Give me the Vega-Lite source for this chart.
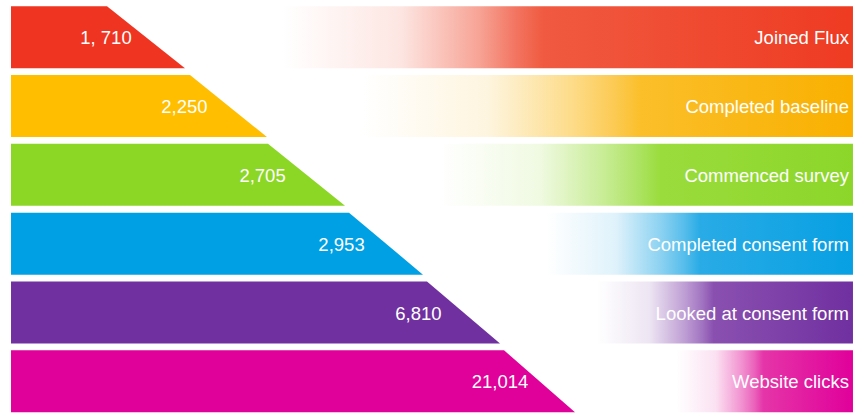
{
  "$schema": "https://vega.github.io/schema/vega-lite/v6.json",
  "width": 854,
  "height": 413,
  "autosize": {"type": "fit", "contains": "padding"},
  "padding": 0,
  "background": "white",
  "config": {"view": {"stroke": null}},
  "datasets": {
    "stages": [
      {"stage": "Joined Flux", "count": 1710, "label": "1, 710", "labelAt": 12.41, "fade": 33.14},
      {"stage": "Completed baseline", "count": 2250, "label": "2,250", "labelAt": 21.6, "fade": 42.51},
      {"stage": "Commenced survey", "count": 2705, "label": "2,705", "labelAt": 30.74, "fade": 51.52},
      {"stage": "Completed consent form", "count": 2953, "label": "2,953", "labelAt": 39.99, "fade": 64.05},
      {"stage": "Looked at consent form", "count": 6810, "label": "6,810", "labelAt": 49.0, "fade": 69.91},
      {"stage": "Website clicks", "count": 21014, "label": "21,014", "labelAt": 58.55, "fade": 79.27}
    ],
    "edge": [
      {"stage": "Joined Flux", "level": 0.09, "edge": 12.53},
      {"stage": "Joined Flux", "level": 0.99, "edge": 21.66},
      {"stage": "Completed baseline", "level": 1.09, "edge": 22.25},
      {"stage": "Completed baseline", "level": 1.99, "edge": 31.26},
      {"stage": "Commenced survey", "level": 2.09, "edge": 31.38},
      {"stage": "Commenced survey", "level": 2.99, "edge": 40.4},
      {"stage": "Completed consent form", "level": 3.09, "edge": 40.87},
      {"stage": "Completed consent form", "level": 3.99, "edge": 49.53},
      {"stage": "Looked at consent form", "level": 4.09, "edge": 50.0},
      {"stage": "Looked at consent form", "level": 4.99, "edge": 58.55},
      {"stage": "Website clicks", "level": 5.09, "edge": 59.02},
      {"stage": "Website clicks", "level": 5.99, "edge": 67.33}
    ]
  },
  "layer": [
    {
      "data": {"name": "edge"},
      "mark": {"type": "area", "orient": "horizontal"},
      "encoding": {
        "y": {"field": "level", "type": "quantitative", "scale": {"domain": [0, 6], "reverse": true, "nice": false, "zero": false}, "axis": null},
        "x": {"field": "edge", "type": "quantitative", "scale": {"domain": [0, 100], "nice": false, "zero": false}, "axis": null},
        "x2": {"datum": 1.29},
        "color": {"field": "stage", "type": "nominal", "legend": null,
          "scale": {"domain": ["Joined Flux", "Completed baseline", "Commenced survey", "Completed consent form", "Looked at consent form", "Website clicks"],
                    "range": ["#EF3522", "#FFBE00", "#8CD626", "#00A0E4", "#7030A0", "#E0009A"]}}
      }
    },
    {
      "data": {"name": "stages"},
      "transform": [{"filter": "datum.stage === 'Joined Flux'"}],
      "mark": {"type": "rect", "fill": {"gradient": "linear", "x1": 0, "y1": 0, "x2": 1, "y2": 0, "stops": [
        {"offset": 0, "color": "#FFFFFF"}, {"offset": 0.206, "color": "#FDE6E2"}, {"offset": 0.343, "color": "#F7A496"}, {"offset": 0.41, "color": "#F27460"}, {"offset": 0.457, "color": "#F05A40"}, {"offset": 1, "color": "#EE3B22"}]}},
      "encoding": {
        "y": {"field": "stage", "type": "nominal", "axis": null, "scale": {"type": "band", "domain": ["Joined Flux", "Completed baseline", "Commenced survey", "Completed consent form", "Looked at consent form", "Website clicks"], "paddingInner": 0.1, "paddingOuter": 0.05, "align": 0.9}},
        "x": {"field": "fade", "type": "quantitative", "scale": {"domain": [0, 100], "nice": false, "zero": false}, "axis": null},
        "x2": {"datum": 99.88}
      }
    },
    {
      "data": {"name": "stages"},
      "transform": [{"filter": "datum.stage === 'Completed baseline'"}],
      "mark": {"type": "rect", "fill": {"gradient": "linear", "x1": 0, "y1": 0, "x2": 1, "y2": 0, "stops": [
        {"offset": 0, "color": "#FFFFFF"}, {"offset": 0.255, "color": "#FEF5DF"}, {"offset": 0.425, "color": "#FDDC8A"}, {"offset": 0.51, "color": "#FCCB55"}, {"offset": 0.566, "color": "#FBBF2A"}, {"offset": 1, "color": "#F9B000"}]}},
      "encoding": {
        "y": {"field": "stage", "type": "nominal", "axis": null, "scale": {"type": "band", "domain": ["Joined Flux", "Completed baseline", "Commenced survey", "Completed consent form", "Looked at consent form", "Website clicks"], "paddingInner": 0.1, "paddingOuter": 0.05, "align": 0.9}},
        "x": {"field": "fade", "type": "quantitative", "scale": {"domain": [0, 100], "nice": false, "zero": false}, "axis": null},
        "x2": {"datum": 99.88}
      }
    },
    {
      "data": {"name": "stages"},
      "transform": [{"filter": "datum.stage === 'Commenced survey'"}],
      "mark": {"type": "rect", "fill": {"gradient": "linear", "x1": 0, "y1": 0, "x2": 1, "y2": 0, "stops": [
        {"offset": 0, "color": "#FFFFFF"}, {"offset": 0.24, "color": "#F0FAE2"}, {"offset": 0.4, "color": "#C7EC94"}, {"offset": 0.48, "color": "#ADE363"}, {"offset": 0.534, "color": "#9ADC3C"}, {"offset": 1, "color": "#8CD62A"}]}},
      "encoding": {
        "y": {"field": "stage", "type": "nominal", "axis": null, "scale": {"type": "band", "domain": ["Joined Flux", "Completed baseline", "Commenced survey", "Completed consent form", "Looked at consent form", "Website clicks"], "paddingInner": 0.1, "paddingOuter": 0.05, "align": 0.9}},
        "x": {"field": "fade", "type": "quantitative", "scale": {"domain": [0, 100], "nice": false, "zero": false}, "axis": null},
        "x2": {"datum": 99.88}
      }
    },
    {
      "data": {"name": "stages"},
      "transform": [{"filter": "datum.stage === 'Completed consent form'"}],
      "mark": {"type": "rect", "fill": {"gradient": "linear", "x1": 0, "y1": 0, "x2": 1, "y2": 0, "stops": [
        {"offset": 0, "color": "#FFFFFF"}, {"offset": 0.225, "color": "#DFF2FB"}, {"offset": 0.376, "color": "#89D1F1"}, {"offset": 0.45, "color": "#55BDEB"}, {"offset": 0.5, "color": "#29ABE6"}, {"offset": 1, "color": "#07A0E3"}]}},
      "encoding": {
        "y": {"field": "stage", "type": "nominal", "axis": null, "scale": {"type": "band", "domain": ["Joined Flux", "Completed baseline", "Commenced survey", "Completed consent form", "Looked at consent form", "Website clicks"], "paddingInner": 0.1, "paddingOuter": 0.05, "align": 0.9}},
        "x": {"field": "fade", "type": "quantitative", "scale": {"domain": [0, 100], "nice": false, "zero": false}, "axis": null},
        "x2": {"datum": 99.88}
      }
    },
    {
      "data": {"name": "stages"},
      "transform": [{"filter": "datum.stage === 'Looked at consent form'"}],
      "mark": {"type": "rect", "fill": {"gradient": "linear", "x1": 0, "y1": 0, "x2": 1, "y2": 0, "stops": [
        {"offset": 0, "color": "#FFFFFF"}, {"offset": 0.205, "color": "#EDE5F3"}, {"offset": 0.341, "color": "#BF9FD4"}, {"offset": 0.41, "color": "#A274C1"}, {"offset": 0.455, "color": "#8A50B0"}, {"offset": 1, "color": "#7030A0"}]}},
      "encoding": {
        "y": {"field": "stage", "type": "nominal", "axis": null, "scale": {"type": "band", "domain": ["Joined Flux", "Completed baseline", "Commenced survey", "Completed consent form", "Looked at consent form", "Website clicks"], "paddingInner": 0.1, "paddingOuter": 0.05, "align": 0.9}},
        "x": {"field": "fade", "type": "quantitative", "scale": {"domain": [0, 100], "nice": false, "zero": false}, "axis": null},
        "x2": {"datum": 99.88}
      }
    },
    {
      "data": {"name": "stages"},
      "transform": [{"filter": "datum.stage === 'Website clicks'"}],
      "mark": {"type": "rect", "fill": {"gradient": "linear", "x1": 0, "y1": 0, "x2": 1, "y2": 0, "stops": [
        {"offset": 0, "color": "#FFFFFF"}, {"offset": 0.22, "color": "#FBE1F2"}, {"offset": 0.37, "color": "#F190CF"}, {"offset": 0.44, "color": "#EB62BB"}, {"offset": 0.49, "color": "#E535A8"}, {"offset": 1, "color": "#E0009A"}]}},
      "encoding": {
        "y": {"field": "stage", "type": "nominal", "axis": null, "scale": {"type": "band", "domain": ["Joined Flux", "Completed baseline", "Commenced survey", "Completed consent form", "Looked at consent form", "Website clicks"], "paddingInner": 0.1, "paddingOuter": 0.05, "align": 0.9}},
        "x": {"field": "fade", "type": "quantitative", "scale": {"domain": [0, 100], "nice": false, "zero": false}, "axis": null},
        "x2": {"datum": 99.88}
      }
    },
    {
      "data": {"name": "stages"},
      "mark": {"type": "text", "align": "center", "baseline": "middle", "dx": 0, "dy": 1, "font": "Liberation Sans", "fontSize": 18.5, "color": "white"},
      "encoding": {
        "y": {"field": "stage", "type": "nominal", "axis": null, "bandPosition": 0.5, "scale": {"type": "band", "domain": ["Joined Flux", "Completed baseline", "Commenced survey", "Completed consent form", "Looked at consent form", "Website clicks"], "paddingInner": 0.1, "paddingOuter": 0.05, "align": 0.9}},
        "x": {"field": "labelAt", "type": "quantitative", "scale": {"domain": [0, 100], "nice": false, "zero": false}, "axis": null},
        "text": {"field": "label", "type": "nominal"}
      }
    },
    {
      "data": {"name": "stages"},
      "mark": {"type": "text", "align": "right", "baseline": "middle", "dy": 1, "font": "Liberation Sans", "fontSize": 18.5, "color": "white"},
      "encoding": {
        "y": {"field": "stage", "type": "nominal", "axis": null, "bandPosition": 0.5, "scale": {"type": "band", "domain": ["Joined Flux", "Completed baseline", "Commenced survey", "Completed consent form", "Looked at consent form", "Website clicks"], "paddingInner": 0.1, "paddingOuter": 0.05, "align": 0.9}},
        "x": {"datum": 99.41, "type": "quantitative", "scale": {"domain": [0, 100], "nice": false, "zero": false}, "axis": null},
        "text": {"field": "stage", "type": "nominal"}
      }
    }
  ],
  "resolve": {"scale": {"y": "independent"}}
}
